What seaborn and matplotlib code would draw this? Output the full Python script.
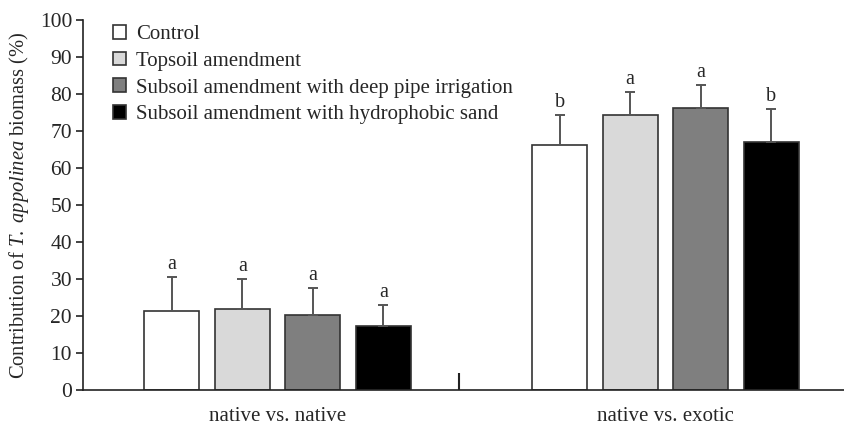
import numpy as np
import pandas as pd
import matplotlib
matplotlib.use("Agg")
import matplotlib.pyplot as plt
import seaborn as sns

# data
groups = ["native vs. native", "native vs. exotic"]
treatments = ["Control", "Topsoil amendment",
              "Subsoil amendment with deep pipe irrigation",
              "Subsoil amendment with hydrophobic sand"]
native_mean = [21.4, 21.9, 20.3, 17.4]
native_err = [9.1, 8.1, 7.3, 5.6]
exotic_mean = [66.2, 74.4, 76.1, 67.0]
exotic_err = [8.1, 6.2, 6.3, 9.0]
native_letters = ["a", "a", "a", "a"]
exotic_letters = ["b", "a", "a", "b"]
bar_colors = ["#ffffff", "#d9d9d9", "#7f7f7f", "#000000"]

df = pd.DataFrame({
    "group": [groups[0]] * 4 + [groups[1]] * 4,
    "treatment": treatments * 2,
    "value": native_mean + exotic_mean,
    "err": native_err + exotic_err,
    "letter": native_letters + exotic_letters,
})

sns.set_style("ticks")
plt.rcParams["font.family"] = ["Liberation Serif", "DejaVu Serif"]
plt.rcParams["mathtext.fontset"] = "custom"
plt.rcParams["mathtext.rm"] = "Liberation Serif"
plt.rcParams["mathtext.it"] = "Liberation Serif:italic"

fig = plt.figure(figsize=(8.45, 4.29), dpi=100)
ax = fig.add_axes([0.0985, 0.091, 0.9015, 0.863])

sns.barplot(data=df, x="group", y="value", hue="treatment", order=groups,
            hue_order=treatments, palette=bar_colors, width=0.727, gap=0.22,
            edgecolor="#333333", linewidth=1.2, errorbar=None, ax=ax,
            saturation=1)

# one-sided error bars and letters, placed on the bars seaborn drew
for cont, tr in zip(ax.containers, treatments):
    sub = df[df.treatment == tr].set_index("group").loc[groups]
    for patch, (_, row) in zip(cont.patches, sub.iterrows()):
        xc = patch.get_x() + patch.get_width() / 2
        ax.errorbar(xc, row.value, yerr=[[0], [row.err]], color="#555555",
                    elinewidth=1.4, capsize=3.5, capthick=1.4, fmt="none",
                    zorder=1)
        ax.text(xc, row.value + row.err + 0.8, row.letter, ha="center",
                va="bottom", fontsize=14.5)

ax.set_xlim(-0.501, 1.463)
ax.set_ylim(0, 100)
ax.set_yticks(np.arange(0, 101, 10))
ax.tick_params(axis="y", labelsize=15.5, direction="out", length=5, width=1.2,
               color="#222222", pad=3)
ax.set_xticks([0.468], minor=True)
ax.tick_params(axis="x", which="major", length=0, labelsize=15, pad=12)
ax.tick_params(axis="x", which="minor", direction="in", length=12, width=1.5,
               color="#222222")
ax.set_xlabel("")
ax.set_ylabel(r"Contribution of $\mathit{T.\ appolinea}$ biomass (%)",
              fontsize=14.8, labelpad=6)
for s in ["top", "right"]:
    ax.spines[s].set_visible(False)
for s in ["left", "bottom"]:
    ax.spines[s].set_linewidth(1.2)
    ax.spines[s].set_color("#222222")

leg = ax.legend(loc="upper left", bbox_to_anchor=(0.0275, 1.008), frameon=False,
                fontsize=15, handlelength=0.63, handleheight=0.63,
                handletextpad=0.5, labelspacing=0.36, borderaxespad=0)

fig.savefig("out.png", dpi=100)
